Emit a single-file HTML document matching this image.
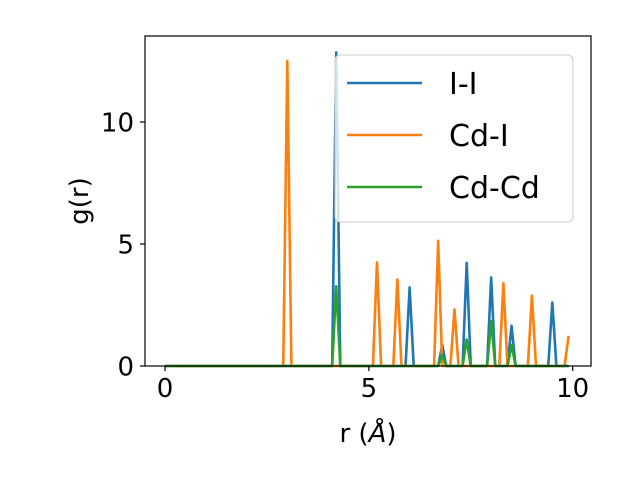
<!DOCTYPE html>
<html><head><meta charset="utf-8"><style>
html,body{margin:0;padding:0;background:#fff}
svg{display:block;font-family:"DejaVu Sans","Liberation Sans",sans-serif}
</style></head><body>
<svg id="chart" width="640" height="480" viewBox="0 0 640 480" xmlns="http://www.w3.org/2000/svg">
<rect width="640" height="480" fill="#fff"/>
<g id="plot"></g>
<g id="axes"></g>
</svg>
<script>
const rValues = [];
for (let i = 0; i < 100; i++) rValues.push(+(i * 0.1).toFixed(1));
const peaksII = [[4.2, 12.85], [6.0, 3.22], [6.8, 0.86], [7.4, 4.23], [8.0, 3.63], [8.5, 1.65], [9.5, 2.6]];
const peaksCdI = [[3.0, 12.5], [5.2, 4.25], [5.7, 3.55], [6.7, 5.13], [7.1, 2.32], [8.3, 3.39], [9.0, 2.88], [9.9, 1.24]];
const peaksCdCd = [[4.2, 3.27], [6.8, 0.45], [7.4, 1.09], [8.0, 1.84], [8.5, 0.86]];
const xTicks = [0, 5, 10];
const yTicks = [0, 5, 10];
const seriesNames = ["I-I", "Cd-I", "Cd-Cd"];
const colors = ["#1f77b4", "#ff7f0e", "#2ca02c"];

const NS = "http://www.w3.org/2000/svg";
const L = 145, R = 591, T = 36, B = 366;
const xs = r => 165 + r * 40.77;
const ys = v => 366 - v * 24.4;
function mk(tag, attrs, parent) {
  const e = document.createElementNS(NS, tag);
  for (const k in attrs) e.setAttribute(k, attrs[k]);
  parent.appendChild(e);
  return e;
}
function series(peaks) {
  return rValues.map(r => {
    const p = peaks.find(q => Math.abs(q[0] - r) < 1e-6);
    return p ? p[1] : 0;
  });
}
const plot = document.getElementById("plot");
const axes = document.getElementById("axes");
const allData = [series(peaksII), series(peaksCdI), series(peaksCdCd)];
allData.forEach((vals, si) => {
  const d = vals.map((v, i) => (i ? "L" : "M") + xs(rValues[i]).toFixed(2) + "," + ys(v).toFixed(2)).join("");
  const p = mk("path", {d: d, fill: "none", stroke: colors[si], "stroke-width": 2.6, "stroke-linejoin": "round"}, plot);
  
  
});
const frame = mk("rect", {x: L, y: T, width: R - L, height: B - T, fill: "none", stroke: "#000", "stroke-width": 1.2}, axes);


xTicks.forEach(t => {
  const x = xs(t);
  const tk = mk("line", {x1: x, x2: x, y1: B, y2: B + 5, stroke: "#000", "stroke-width": 1.2}, axes);
  
  
  const tx = mk("text", {x: x, y: 397, "font-size": 26, "text-anchor": "middle"}, axes);
  tx.textContent = t;
  
  
});
yTicks.forEach(t => {
  const y = ys(t);
  const tk = mk("line", {x1: L - 5, x2: L, y1: y, y2: y, stroke: "#000", "stroke-width": 1.2}, axes);
  
  
  const tx = mk("text", {x: 134, y: y + 9.5, "font-size": 26, "text-anchor": "end"}, axes);
  tx.textContent = t;
  
  
});
const xl = mk("text", {x: 368, y: 442, "font-size": 26, "text-anchor": "middle"}, axes);
xl.innerHTML = 'r (<tspan font-style="italic">Å</tspan>)';


const yl = mk("text", {x: 0, y: 0, "font-size": 26, "text-anchor": "middle", transform: "translate(88,201) rotate(-90)"}, axes);
yl.textContent = "g(r)";


const lg = mk("g", {}, axes);


mk("rect", {x: 335, y: 55, width: 238, height: 167, rx: 5, fill: "#fff", "fill-opacity": 0.8, stroke: "#ccc", "stroke-width": 1}, lg);
seriesNames.forEach((n, i) => {
  const y = 83 + i * 52;
  const ln = mk("line", {x1: 347, x2: 422, y1: y, y2: y, stroke: colors[i], "stroke-width": 2.6}, lg);
  
  
  const t = mk("text", {x: 449, y: y + 11, "font-size": 30}, lg);
  t.textContent = n;
  
  
});
</script>
</body></html>
